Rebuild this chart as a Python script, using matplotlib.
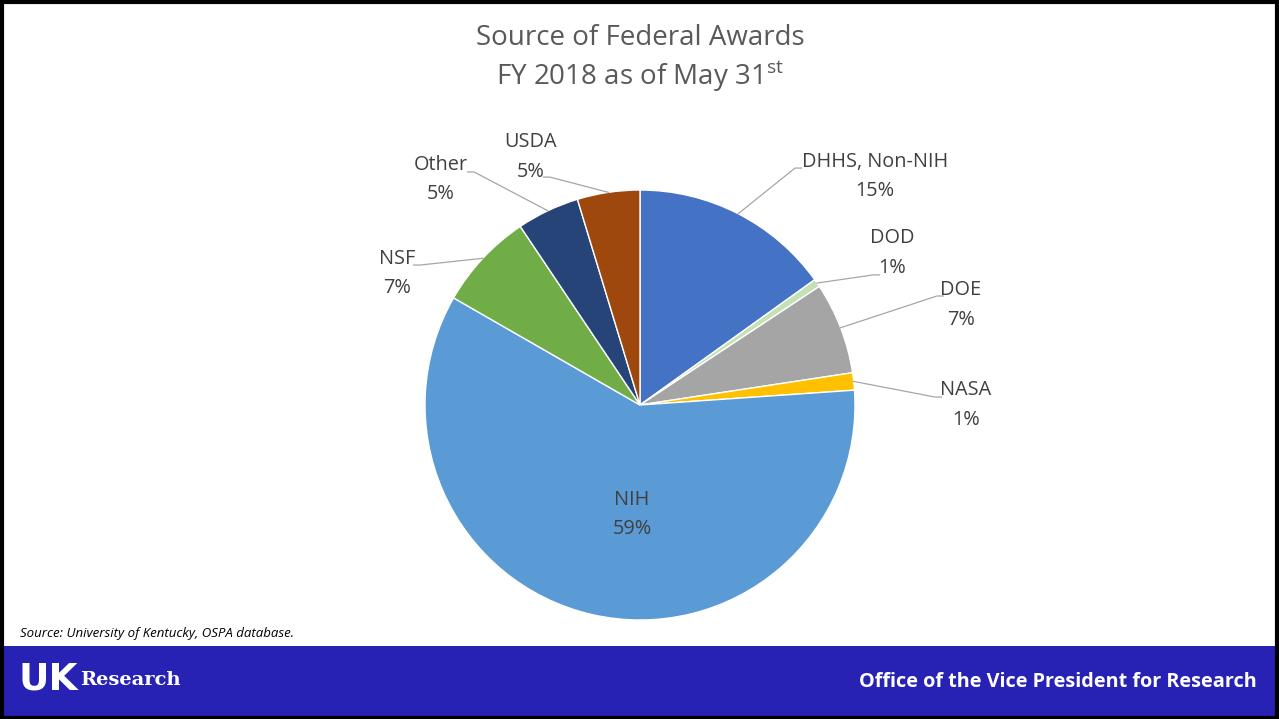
import matplotlib.pyplot as plt
import numpy as np
from matplotlib.patches import Rectangle

# data (share of federal awards, %)
sources = ["DHHS, Non-NIH", "DOD", "DOE", "NASA", "NIH", "NSF", "Other", "USDA"]
shares = [15.1, 0.6, 6.9, 1.3, 59.4, 7.3, 4.7, 4.7]
colors = ["#4472C4", "#C5E0B4", "#A5A5A5", "#FFC000", "#5B9BD5",
          "#70AD47", "#264478", "#9E480E"]

# label layout in pie units (radius = 1): text centre, leader line end
label_pos = {
    "DHHS, Non-NIH": (1.093, 1.063),
    "DOD": (1.172, 0.707),
    "DOE": (1.493, 0.465),
    "NASA": (1.516, 0.0),
    "NIH": (-0.037, -0.509),
    "NSF": (-1.13, 0.612),
    "Other": (-0.926, 1.049),
    "USDA": (-0.507, 1.153),
}
line_end = {
    "DHHS, Non-NIH": (0.721, 1.102),
    "DOD": (1.084, 0.605),
    "DOE": (1.381, 0.507),
    "NASA": (1.372, 0.037),
    "NSF": (-1.023, 0.651),
    "Other": (-0.772, 1.084),
    "USDA": (-0.419, 1.060),
}

plt.rcParams['font.family'] = ['Open Sans', 'DejaVu Sans']
W, H = 1279, 719
fig = plt.figure(figsize=(W / 100, H / 100), dpi=100)

# pie axes: centre (640, 405) px, radius 215 px
cx, cy, r = 640, 405, 215
ax = fig.add_axes([(cx - r) / W, (H - cy - r) / H, 2 * r / W, 2 * r / H])
wedges, _ = ax.pie(shares, colors=colors, startangle=90, counterclock=False,
                   radius=1, wedgeprops=dict(edgecolor="white", linewidth=1))
ax.set_xlim(-1, 1)
ax.set_ylim(-1, 1)
ax.set_aspect("equal")
ax.axis("off")

txt_col = "#404040"
for w, name, val in zip(wedges, sources, shares):
    tx, ty = label_pos[name]
    ax.text(tx, ty, f"{name}\n{round(val):.0f}%", ha="center", va="center",
            fontsize=14.3, color=txt_col, linespacing=1.65, clip_on=False)
    if name not in line_end:
        continue
    mid = np.deg2rad((w.theta1 + w.theta2) / 2)
    ex, ey = line_end[name]
    hook = 0.03 if tx > ex else -0.03
    ax.plot([np.cos(mid), ex, ex + hook], [np.sin(mid), ey, ey],
            color="#A6A6A6", lw=0.9, clip_on=False)

# title
fig.text(cx / W, 1 - 38 / H, "Source of Federal Awards", ha="center", va="center",
         fontsize=20, color="#595959")
fig.text(cx / W, 1 - 76 / H, r"FY 2018 as of May 31$^{\mathregular{st}}$",
         ha="center", va="center", fontsize=20, color="#595959")

# source note
fig.text(20 / W, 1 - 634 / H, "Source: University of Kentucky, OSPA database.",
         ha="left", va="center", fontsize=9.5, style="italic", color="black")

# footer band
fig.patches.append(Rectangle((0, 2 / H), 1, (717 - 646) / H, transform=fig.transFigure,
                             facecolor="#2722B4", edgecolor="none", zorder=0))
fig.text(19 / W, 1 - 680 / H, "UK", ha="left", va="center", fontsize=27,
         fontweight="heavy", color="white", family="DejaVu Sans")
fig.text(80 / W, 1 - 680 / H, "Research", ha="left", va="center", fontsize=14,
         fontweight="bold", color="white", family="DejaVu Serif")
fig.text(1257 / W, 1 - 682 / H, "Office of the Vice President for Research",
         ha="right", va="center", fontsize=14.3, fontweight="bold", color="white")

# outer frame
fig.patches.append(Rectangle((0.0012, 0.002), 0.9975, 0.995, transform=fig.transFigure,
                             facecolor="none", edgecolor="black", linewidth=3, zorder=5))

fig.savefig("out.png", dpi=100)
